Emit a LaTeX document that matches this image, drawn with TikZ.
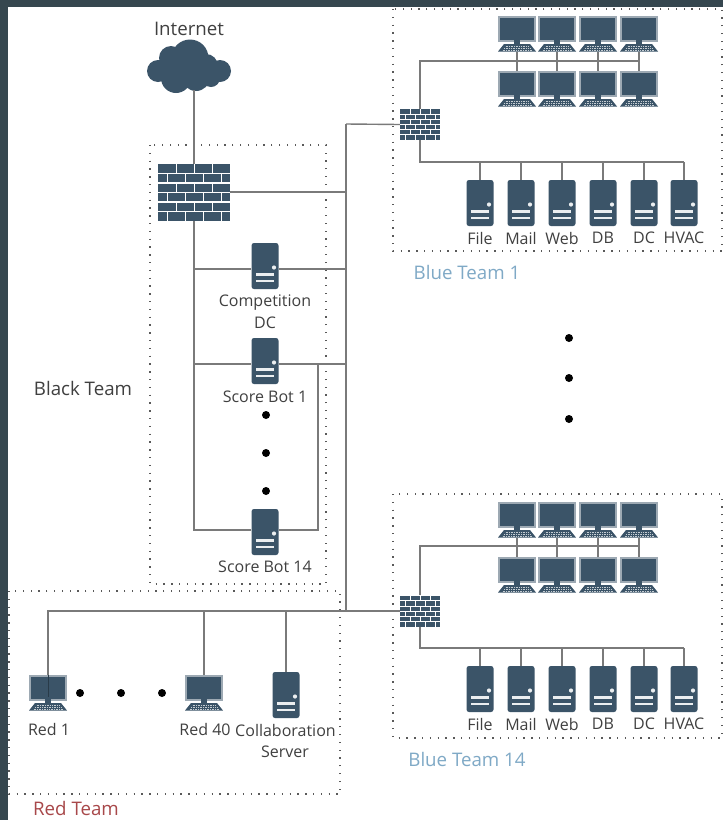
\documentclass[tikz,border=0pt]{standalone}
\usepackage{fontspec}
\setmainfont{Open Sans}
\definecolor{icon}{HTML}{3B5468}
\definecolor{band}{HTML}{36474F}
\definecolor{wire}{HTML}{7A7A7A}
\definecolor{txt}{HTML}{404040}
\definecolor{bluelbl}{HTML}{7FA9C6}
\definecolor{redlbl}{HTML}{A8484A}
\tikzset{
  x=1pt,y=-1pt,
  wire/.style={draw=wire,line width=1.4pt},
  zone/.style={draw=black!65,line width=1.3pt,dash pattern=on 1.3pt off 6.5pt},
  lbl/.style={text=txt,font=\fontsize{16}{18}\selectfont,inner sep=0pt,anchor=center},
  biglbl/.style={lbl,font=\fontsize{18.7}{21}\selectfont},
  serverbox/.style={fill=icon,draw=none,rounded corners=2.5pt,minimum width=27pt,minimum height=46pt,inner sep=0pt},
  screenbox/.style={fill=icon,draw=icon!50!white,line width=1.8pt,minimum width=36pt,minimum height=24pt,inner sep=0pt},
  wallbox/.style={fill=icon,draw=none,inner sep=0pt},
  bigdot/.style={circle,fill=black,minimum size=8pt,inner sep=0pt},
}
% server icon: name, x, y(centre)
\newcommand{\srv}[3]{%
  \node[serverbox] (#1) at (#2,#3) {};
  \fill[white!90!icon] (#2+9,#3+1.5) circle (2.1);
  \fill[white!90!icon] (#2-9,#3+7) rectangle (#2+9,#3+9.5);
  \fill[white!90!icon] (#2-9,#3+13.5) rectangle (#2+9,#3+16);
}
% monitor icon: name, x, y(top)
\newcommand{\mon}[3]{%
  \node[screenbox,anchor=north] (#1) at (#2,#3) {};
  \fill[icon] (#2-3,#3+24) rectangle (#2+3,#3+28);
  \fill[icon] (#2-19,#3+35.5) -- (#2-13,#3+28) -- (#2+13,#3+28) -- (#2+19,#3+35.5) -- cycle;
  \draw[white!70!icon,line width=.6pt,dash pattern=on 1pt off .7pt] (#2-11.5,#3+30) -- (#2+11.5,#3+30);
  \draw[white!70!icon,line width=.6pt,dash pattern=on 1pt off .7pt] (#2-13,#3+32) -- (#2+13,#3+32);
  \draw[white!70!icon,line width=.6pt,dash pattern=on 1pt off .7pt] (#2-14.5,#3+34) -- (#2+14.5,#3+34);
  \coordinate (#1b) at (#2,#3+35.5);
}
% firewall icon: name, x, y, width, height (centre)
\newcommand{\wall}[5]{%
  \node[wallbox,minimum width=#4pt,minimum height=#5pt] (#1) at (#2,#3) {};
  \begin{scope}[shift={(#2-#4/2,#3-#5/2)},x=#4pt,y=-#5pt]
    \foreach \r in {1,...,5} \draw[white,line width=.022pt*#5] (0,\r/6) -- (1,\r/6);
    \foreach \r in {0,2,4} \foreach \c in {.25,.5,.75} \draw[white,line width=.012pt*#4] (\c,\r/6) -- (\c,\r/6+1/6);
    \foreach \r in {1,3,5} \foreach \c in {.125,.375,.625,.875} \draw[white,line width=.012pt*#4] (\c,\r/6) -- (\c,\r/6+1/6);
  \end{scope}
}
% #1 prefix #2 box top #3 box bottom #4 fw y #5 row1 top #6 row2 top #7 bus y #8 lower bus y #9 server centre y
\newcommand{\blueteam}[9]{%
  \draw[zone] (393,#2) rectangle (722,#3);
  \wall{#1fw}{420}{#4}{40}{31}
  \foreach \i/\x in {1/517,2/557,3/598,4/639}{
    \mon{#1t\i}{\x}{#5}
    \mon{#1u\i}{\x}{#6}
    \draw[wire] (#1t\i b) -- (#1u\i.north);
  }
  \coordinate (#1busa) at (#1fw.north |- 0,#7);
  \coordinate (#1busb) at (#1u4.north |- 0,#7);
  \draw[wire] (#1fw.north) -- (#1busa) -- (#1busb);
  \foreach \i/\x/\t in {1/480/File,2/521/Mail,3/562/Web,4/603/DB,5/644/DC,6/684/HVAC}{
    \srv{#1s\i}{\x}{#9}
    \coordinate (#1j\i) at (#1s\i.north |- 0,#8);
    \draw[wire] (#1j\i) -- (#1s\i.north);
    \node[lbl] (#1l\i) at (\x,#9+35) {\t};
  }
  \coordinate (#1busc) at (#1fw.south |- 0,#8);
  \draw[wire] (#1fw.south) -- (#1busc) -- (#1j6);
}
\begin{document}
\begin{tikzpicture}
\useasboundingbox (0,0) rectangle (723,820);
\fill[white] (0,0) rectangle (723,820);
\fill[band] (0,0) rectangle (723,7);
\fill[band] (0,0) rectangle (8,820);

% zones
\draw[zone] (150,145) rectangle (326,584);
\draw[zone] (9,591) rectangle (340,794);

% cloud
\fill[icon] (158,71) circle (11) (171,58) circle (12) (190,58) circle (18.5)
  (176,78) circle (15) (196,77) circle (14) (211,78) circle (9) (220,71) circle (11)
  (206,66) circle (12);
\fill[icon] (158,71) rectangle (220,80);
\coordinate (cloud) at (194,90);
\node[biglbl] (inet) at (189,29) {Internet};

% firewall and black team
\wall{fwb}{194}{192.5}{72}{57}
\srv{cdc}{265}{266}
\srv{sb1}{265}{361}
\srv{sb14}{265}{532}

\coordinate (spine) at (346,124);
\coordinate (j192) at (346,192);
\coordinate (j269) at (346,269);
\coordinate (j364) at (346,364);
\coordinate (j611) at (346,611);
\coordinate (t269) at (194,269);
\coordinate (t364) at (194,364);
\coordinate (t530) at (194,530);
\coordinate (c364) at (318,364);
\coordinate (c530) at (318,530);

\draw[wire] (cloud) -- (fwb.north);
\draw[wire] (fwb.south) -- (t530) -- (sb14.west |- t530);
\draw[wire] (sb14.east |- c530) -- (c530) -- (c364);
\draw[wire] (fwb.east |- j192) -- (j192);
\draw[wire] (t269) -- (cdc.west |- t269);
\draw[wire] (cdc.east |- j269) -- (j269);
\draw[wire] (t364) -- (sb1.west |- t364);
\draw[wire] (sb1.east |- j364) -- (j364);
\draw[wire] (spine) -- (j611);

\node[lbl] (lcdc) at (265,303) {Competition};
\node[lbl] (lcdc2) at (265,323) {DC};
\node[lbl] (lsb1) at (265,397) {Score Bot 1};
\node[lbl] (lsb14) at (265,567) {Score Bot 14};
\node[biglbl] (lblack) at (83,388) {Black Team};
\node[bigdot] (d1) at (266,415) {};
\node[bigdot] (d2) at (266,453) {};
\node[bigdot] (d3) at (266,491) {};

% blue teams
\blueteam{a}{9}{251}{124.5}{16}{71}{61}{162}{203}
\draw[wire] (spine) -- (afw.west);
\node[biglbl,text=bluelbl] (la) at (467,272) {Blue Team 1};

\blueteam{b}{494}{738}{611}{502}{557}{546}{648}{689}
\draw[wire] (j611) -- (bfw.west);
\node[biglbl,text=bluelbl] (lb) at (467,759) {Blue Team 14};

\node[bigdot] (m1) at (569,338) {};
\node[bigdot] (m2) at (569,378) {};
\node[bigdot] (m3) at (569,419) {};

% red team
\mon{r1}{48}{675}
\mon{r40}{204}{675}
\srv{coll}{286}{695}
\coordinate (rl) at (48,611);
\coordinate (rm) at (204,611);
\coordinate (rn) at (286,611);
\coordinate (rin) at (48,697);
\draw[wire] (j611) -- (rl) -- (r1.north);
\draw[draw=icon!70!black,line width=1pt] (r1.north) -- (rin);
\draw[wire] (rm) -- (r40.north);
\draw[wire] (rn) -- (coll.north);
\node[bigdot] (ra) at (80,693) {};
\node[bigdot] (rb) at (121,693) {};
\node[bigdot] (rc) at (162,693) {};
\node[lbl] (lr1) at (49,729) {Red 1};
\node[lbl] (lr40) at (205,729) {Red 40};
\node[lbl] (lcoll) at (285.5,730) {Collaboration};
\node[lbl] (lserv) at (285,752) {Server};
\node[biglbl,text=redlbl] (lred) at (76,808) {Red Team};
\end{tikzpicture}
\end{document}
